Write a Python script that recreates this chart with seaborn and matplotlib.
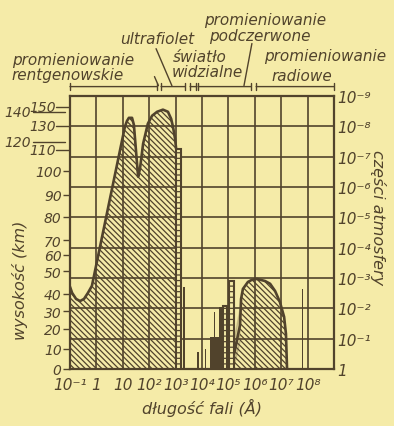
import matplotlib
matplotlib.use("Agg")
import matplotlib.pyplot as plt
import seaborn as sns

# x: log10 of wavelength (Å), y: -log10 of the fraction of the atmosphere
# absorbing shape in the X-ray / ultraviolet part
xuv_x = [-1.00, -0.92, -0.77, -0.62, -0.47, -0.32, -0.17, 1.08, 1.16, 1.23, 1.35,
         1.42, 1.58, 1.65, 1.77, 1.95, 2.11, 2.30, 2.52, 2.71, 2.83, 2.90, 2.98, 3.02]
xuv_y = [2.71, 2.51, 2.31, 2.24, 2.31, 2.51, 2.74, 7.99, 8.18, 8.28, 8.28,
         8.05, 6.34, 6.60, 7.43, 8.09, 8.35, 8.48, 8.55, 8.48, 8.25, 7.99, 7.59, 7.26]

# absorbing shape in the infrared / radio part
ir_x = [5.20, 5.20, 5.44, 5.44, 5.48, 5.55, 5.74, 5.89, 6.08, 6.39, 6.58, 6.77,
        6.95, 7.11, 7.18, 7.22, 7.22]
ir_y = [0.00, 0.89, 0.89, 1.98, 2.31, 2.64, 2.87, 2.94, 2.97, 2.90, 2.81, 2.57,
        2.21, 1.72, 1.16, 0.07, 0.00]

# narrow solid absorption bands: start, end, top
solid_start = [3.28, 3.81, 4.11, 4.30, 4.45, 4.64, 7.78]
solid_end = [3.36, 3.89, 4.15, 4.64, 4.49, 4.78, 7.83]
solid_top = [2.71, 0.56, 0.66, 1.06, 1.88, 2.05, 2.64]

# "ladder" bands
ladder_start = [3.02, 4.78, 5.02]
ladder_end = [3.20, 4.93, 5.20]
ladder_top = [7.26, 2.08, 2.90]

# altitude scale (km) on the left and where it sits on the fraction scale
alt_labels = ["0", "10", "20", "30", "40", "50", "60", "70", "80", "90", "100"]
alt_pos = [0.0, 0.66, 1.32, 1.91, 2.48, 3.23, 3.76, 4.24, 5.02, 5.74, 6.53]
alt_top_labels = ["110", "130", "150"]
alt_top_pos = [7.23, 8.02, 8.65]
alt_frac_labels = ["120", "140"]
alt_frac_pos = [7.49, 8.48]

x_ticks = list(range(-1, 9))
x_labels = ["10⁻¹", "1", "10", "10²", "10³", "10⁴", "10⁵", "10⁶", "10⁷", "10⁸"]
frac_ticks = list(range(0, 10))
frac_labels = ["1", "10⁻¹", "10⁻²", "10⁻³", "10⁻⁴", "10⁻⁵", "10⁻⁶", "10⁻⁷",
               "10⁻⁸", "10⁻⁹"]

# spectral ranges along the top
band_names = ["rentgen", "uv", "vis", "ir", "radio"]
band_start = [-1.0, 2.45, 3.55, 3.85, 6.05]
band_end = [2.30, 3.36, 3.77, 5.86, 9.0]

paper = "#f5eba8"
ink = "#51432c"

sns.set_theme(style="ticks")
plt.rcParams["font.family"] = ["DejaVu Sans"]
plt.rcParams["hatch.linewidth"] = 0.9
plt.rcParams["text.color"] = ink

fig = plt.figure(figsize=(3.94, 4.27), dpi=100, facecolor=paper)
ax = fig.add_axes([70 / 394, 57 / 427, 264 / 394, 273 / 427], facecolor=paper)
ax.set_xlim(-1, 9)
ax.set_ylim(0, 9)

# grid
for gx in range(-1, 10):
    ax.axvline(gx, color=ink, lw=1.2, zorder=1)
for gy in range(0, 10):
    ax.axhline(gy, color=ink, lw=1.2, zorder=1)

# hatched shapes
hatch = "\\" * 6
ax.fill(xuv_x + [3.02, -1.0], xuv_y + [0, 0], facecolor="none", edgecolor=ink,
        hatch=hatch, lw=0, zorder=2)
sns.lineplot(x=xuv_x, y=xuv_y, sort=False, color=ink, lw=1.9, ax=ax, zorder=3)
ax.fill(ir_x, ir_y, facecolor="none", edgecolor=ink, hatch=hatch, lw=0, zorder=2)
sns.lineplot(x=ir_x, y=ir_y, sort=False, color=ink, lw=1.9, ax=ax, zorder=3)

# ladder bands
for a, b, t in zip(ladder_start, ladder_end, ladder_top):
    ax.bar(a, t, width=b - a, align="edge", facecolor=paper, edgecolor=ink,
           hatch="---", lw=1.5, zorder=3)

# solid bands
for a, b, t in zip(solid_start, solid_end, solid_top):
    ax.bar(a, t, width=b - a, align="edge", color=ink, lw=0, zorder=4)

for s in ax.spines.values():
    s.set_color(ink)
    s.set_linewidth(1.6)

ax.set_xticks(x_ticks)
ax.set_xticklabels(x_labels)
ax.set_yticks(alt_pos)
ax.set_yticklabels(alt_labels)
ax.tick_params(axis="x", length=0, pad=6, labelsize=11, colors=ink)
ax.tick_params(axis="y", length=5, width=1, pad=1, labelsize=10, colors=ink)
for lab in ax.get_yticklabels():
    lab.set_style("italic")
for lab in ax.get_xticklabels():
    lab.set_style("italic")

# upper altitude labels drawn by hand (compressed scale)
for lab, p in zip(alt_top_labels, alt_top_pos):
    ax.text(-1.55, p, lab, ha="right", va="center", fontsize=10, style="italic",
            color=ink, clip_on=False)
    ax.plot([-1.52, -1.02], [p, p], color=ink, lw=1, clip_on=False)
for lab, p in zip(alt_frac_labels, alt_frac_pos):
    ax.text(-2.48, p, lab, ha="right", va="center", fontsize=10, style="italic",
            color=ink, clip_on=False)
    ax.plot([-2.40, -1.20], [p, p], color=ink, lw=1, clip_on=False)

ax.set_xlabel("długość fali (Å)", fontsize=11.5, style="italic", color=ink, labelpad=4)
ax.set_ylabel("wysokość (km)", fontsize=11.5, style="italic", color=ink)
ax.yaxis.set_label_coords(-0.16, 0.33)

ax2 = ax.twinx()
ax2.set_ylim(0, 9)
ax2.set_yticks(frac_ticks)
ax2.set_yticklabels(frac_labels)
ax2.tick_params(axis="y", length=0, pad=2, labelsize=11, colors=ink)
for lab in ax2.get_yticklabels():
    lab.set_style("italic")
for s in ax2.spines.values():
    s.set_visible(False)
ax2.set_ylabel("części atmosfery", fontsize=11.5, style="italic", color=ink,
               rotation=270, va="center")
ax2.yaxis.set_label_coords(1.165, 0.56)

# ranges along the top
yb = 9.31
for name, a, b in zip(band_names, band_start, band_end):
    ax.annotate("", xy=(a, yb), xytext=(b, yb), annotation_clip=False,
                arrowprops=dict(arrowstyle="|-|,widthA=0.2,widthB=0.2", lw=1, color=ink,
                                shrinkA=0, shrinkB=0))

lead = dict(color=ink, lw=1, clip_on=False)
ax.plot([2.20, 2.35], [9.64, 9.34], **lead)
ax.plot([2.26, 2.86], [10.56, 9.34], **lead)
ax.plot([5.89, 5.59], [10.73, 9.34], **lead)

txt = dict(ha="left", va="center", fontsize=11, style="italic", color=ink, clip_on=False)
ax.text(-3.2, 10.2, "promieniowanie", **txt)
ax.text(-3.2, 9.7, "rentgenowskie", **txt)
ax.text(0.89, 10.89, "ultrafiolet", **txt)
ax.text(2.90, 10.3, "światło", **txt)
ax.text(2.86, 9.8, "widzialne", **txt)
ax.text(4.08, 11.52, "promieniowanie", **txt)
ax.text(4.27, 10.99, "podczerwone", **txt)
ax.text(6.35, 10.33, "promieniowanie", **txt)
ax.text(6.65, 9.67, "radiowe", **txt)

fig.savefig("out.png", dpi=100, facecolor=paper)
